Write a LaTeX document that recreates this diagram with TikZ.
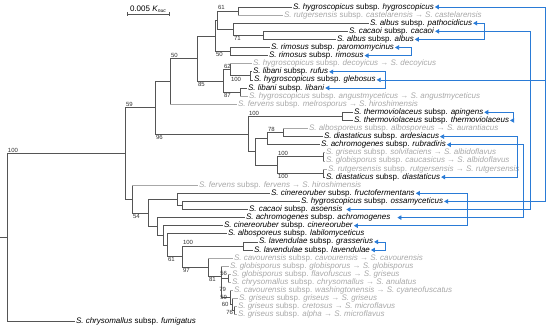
\documentclass[tikz,border=0pt]{standalone}
\usepackage{fontspec}
\setmainfont{Liberation Sans}
\usetikzlibrary{arrows.meta,calc}
\definecolor{treecol}{HTML}{555555}
\definecolor{gtxt}{HTML}{A8A8A8}
\definecolor{blc}{HTML}{2A7BD6}
\definecolor{suptxt}{HTML}{333333}
\newcommand\mysub[2]{\textit{S.~#1} subsp. \textit{#2}}
\newcommand\mysyn[3]{\textit{S.~#1} subsp. \textit{#2} → \textit{S.~#3}}
\newcommand\bedge[2]{\draw[br] (#1) |- (#2.west);}
\newcommand\gedge[2]{\draw[br] (#1) -- (#1 |- #2.west); \draw[gbr] (#1 |- #2.west) -- (#2.west);}
\newcommand\iedge[2]{\draw[br] (#1) |- (#2);}
\tikzset{
  br/.style={draw=treecol, line width=0.8pt},
  gbr/.style={draw=gtxt, line width=0.8pt},
  lf/.style={anchor=west, inner sep=0.8pt, font=\fontsize{8}{9}\selectfont, text height=5.8pt, text depth=1.7pt, text=black},
  glf/.style={lf, text=gtxt},
  suplab/.style={font=\fontsize{6}{7}\selectfont, inner sep=0.3pt, text=suptxt},
  conn/.style={draw=blc, line width=0.7pt},
  tip/.tip={Triangle[length=4pt,width=4.5pt]}
}
\begin{document}
\begin{tikzpicture}[x=1pt,y=-1pt]
\useasboundingbox (0,0) rectangle (550,330);
% leaves
\node[lf] (l1) at (292,7.0) {\mysub{hygroscopicus}{hygroscopicus}};
\node[glf] (l2) at (283,15.1) {\mysyn{rutgersensis}{castelarensis}{castelarensis}};
\node[lf] (l3) at (369,23.2) {\mysub{albus}{pathocidicus}};
\node[lf] (l4) at (348,31.3) {\mysub{cacaoi}{cacaoi}};
\node[lf] (l5) at (336,39.4) {\mysub{albus}{albus}};
\node[lf] (l6) at (270,47.5) {\mysub{rimosus}{paromomycinus}};
\node[lf] (l7) at (268,55.6) {\mysub{rimosus}{rimosus}};
\node[glf] (l8) at (252,63.7) {\mysyn{hygroscopicus}{decoyicus}{decoyicus}};
\node[lf] (l9) at (252,71.8) {\mysub{libani}{rufus}};
\node[lf] (l10) at (253,79.9) {\mysub{hygroscopicus}{glebosus}};
\node[lf] (l11) at (247,88.0) {\mysub{libani}{libani}};
\node[glf] (l12) at (248,96.1) {\mysyn{hygroscopicus}{angustmyceticus}{angustmyceticus}};
\node[glf] (l13) at (237,104.2) {\mysyn{fervens}{melrosporus}{hiroshimensis}};
\node[lf] (l14) at (353,112.3) {\mysub{thermoviolaceus}{apingens}};
\node[lf] (l15) at (353,120.4) {\mysub{thermoviolaceus}{thermoviolaceus}};
\node[glf] (l16) at (308,128.5) {\mysyn{albosporeus}{albosporeus}{aurantiacus}};
\node[lf] (l17) at (323,136.6) {\mysub{diastaticus}{ardesiacus}};
\node[lf] (l18) at (320,144.7) {\mysub{achromogenes}{rubradiris}};
\node[glf] (l19) at (325,152.8) {\mysyn{griseus}{solvifaciens}{albidoflavus}};
\node[glf] (l20) at (325,160.9) {\mysyn{globisporus}{caucasicus}{albidoflavus}};
\node[glf] (l21) at (327,169.0) {\mysyn{rutgersensis}{rutgersensis}{rutgersensis}};
\node[lf] (l22) at (325,177.1) {\mysub{diastaticus}{diastaticus}};
\node[glf] (l23) at (198,185.2) {\mysyn{fervens}{fervens}{hiroshimensis}};
\node[lf] (l24) at (270,193.3) {\mysub{cinereoruber}{fructofermentans}};
\node[lf] (l25) at (300,201.4) {\mysub{hygroscopicus}{ossamyceticus}};
\node[lf] (l26) at (248,209.5) {\mysub{cacaoi}{asoensis}};
\node[lf] (l27) at (245,217.6) {\mysub{achromogenes}{achromogenes}};
\node[lf] (l28) at (223,225.7) {\mysub{cinereoruber}{cinereoruber}};
\node[lf] (l29) at (227,233.8) {\mysub{albosporeus}{labilomyceticus}};
\node[lf] (l30) at (258,241.9) {\mysub{lavendulae}{grasserius}};
\node[lf] (l31) at (253,250.0) {\mysub{lavendulae}{lavendulae}};
\node[glf] (l32) at (233,258.1) {\mysyn{cavourensis}{cavourensis}{cavourensis}};
\node[glf] (l33) at (229,266.2) {\mysyn{globisporus}{globisporus}{globisporus}};
\node[glf] (l34) at (231,274.3) {\mysyn{globisporus}{flavofuscus}{griseus}};
\node[glf] (l35) at (231,282.4) {\mysyn{chrysomallus}{chrysomallus}{anulatus}};
\node[glf] (l36) at (233,290.5) {\mysyn{cavourensis}{washingtonensis}{cyaneofuscatus}};
\node[glf] (l37) at (238,298.6) {\mysyn{griseus}{griseus}{griseus}};
\node[glf] (l38) at (237,306.7) {\mysyn{griseus}{cretosus}{microflavus}};
\node[glf] (l39) at (237,314.8) {\mysyn{griseus}{alpha}{microflavus}};
\node[lf] (l40) at (75,321) {\mysub{chrysomallus}{fumigatus}};
% internal nodes
\coordinate (A) at (238,11.05);
\coordinate (B45) at (263,35.35);
\coordinate (B) at (233,29.3);
\coordinate (C) at (217,20.2);
\coordinate (D) at (230,51.55);
\coordinate (E) at (215,35.9);
\coordinate (H910) at (250,75.85);
\coordinate (G) at (230,69.8);
\coordinate (H1112) at (240,92.05);
\coordinate (H) at (223,80.9);
\coordinate (F) at (197,58.4);
\coordinate (I) at (170,81.3);
\coordinate (T1415) at (342,116.35);
\coordinate (M1617) at (283,132.55);
\coordinate (M) at (267,138.6);
\coordinate (N1920) at (323,156.85);
\coordinate (N2122) at (323,173.05);
\coordinate (N) at (277,164.95);
\coordinate (L) at (255,151.8);
\coordinate (K) at (248,134.1);
\coordinate (J) at (155,107.7);
\coordinate (Q2) at (182,205.45);
\coordinate (Q1) at (177,199.4);
\coordinate (n60) at (234,310.75);
\coordinate (n59) at (232,304.7);
\coordinate (n79) at (230,297.6);
\coordinate (n56) at (228,278.35);
\coordinate (S2) at (221,276);
\coordinate (S2top) at (221,266.2);
\coordinate (S) at (208,267);
\coordinate (R3031) at (243,245.95);
\coordinate (Q6) at (182,256.5);
\coordinate (Q5) at (167,245.15);
\coordinate (Q4) at (163,235.4);
\coordinate (Q3) at (157,226.5);
\coordinate (Q) at (148,212.95);
\coordinate (P) at (132,199.1);
\coordinate (O) at (125,153.4);
\coordinate (R) at (7,237.2);
\coordinate (R0) at (0,237.2);
% leaf edges
\bedge{A}{l1}\gedge{A}{l2}\bedge{B}{l3}\bedge{B45}{l4}\bedge{B45}{l5}
\bedge{D}{l6}\bedge{D}{l7}\gedge{G}{l8}\bedge{H910}{l9}\bedge{H910}{l10}
\bedge{H1112}{l11}\gedge{H1112}{l12}\gedge{I}{l13}\bedge{T1415}{l14}\bedge{T1415}{l15}
\gedge{M1617}{l16}\bedge{M1617}{l17}\bedge{M}{l18}\gedge{N1920}{l19}\gedge{N1920}{l20}
\gedge{N2122}{l21}\bedge{N2122}{l22}\gedge{P}{l23}\bedge{Q1}{l24}\bedge{Q2}{l25}
\bedge{Q2}{l26}\bedge{Q3}{l27}\bedge{Q4}{l28}\bedge{Q5}{l29}\bedge{R3031}{l30}
\bedge{R3031}{l31}\gedge{S}{l32}\gedge{S2}{l33}\gedge{n56}{l34}\gedge{n56}{l35}
\gedge{n79}{l36}\gedge{n59}{l37}\gedge{n60}{l38}\gedge{n60}{l39}\bedge{R}{l40}
% internal edges
\iedge{C}{A}\iedge{C}{B}\iedge{B}{B45}\iedge{E}{C}\iedge{E}{D}
\iedge{G}{H910}\iedge{H}{G}\iedge{H}{H1112}\iedge{F}{E}\iedge{F}{H}
\iedge{I}{F}\iedge{J}{I}\iedge{J}{K}\iedge{K}{T1415}\iedge{K}{L}
\iedge{L}{M}\iedge{L}{N}\iedge{M}{M1617}\iedge{N}{N1920}\iedge{N}{N2122}
\iedge{O}{J}\iedge{O}{P}\iedge{P}{Q}\iedge{Q}{Q1}\iedge{Q1}{Q2}
\iedge{Q}{Q3}\iedge{Q3}{Q4}\iedge{Q4}{Q5}\iedge{Q5}{Q6}\iedge{Q6}{R3031}
\iedge{Q6}{S}\iedge{S}{S2}\iedge{S2}{n56}\iedge{S2}{n79}\iedge{n79}{n59}
\iedge{n59}{n60}\iedge{R}{O}
\draw[br] (R0) -- (R);
% support values
\node[suplab, anchor=south west] (s1) at (217.5,10.4) {61};
\node[suplab, anchor=north west] (s2) at (233.5,35.9) {71};
\node[suplab, anchor=north west] (s3) at (215.5,52.1) {50};
\node[suplab, anchor=south west] (s4) at (170.5,57.8) {50};
\node[suplab, anchor=south west] (s5) at (223.5,69.2) {62};
\node[suplab, anchor=north west] (s6) at (230.5,76.4) {100};
\node[suplab, anchor=north west] (s7) at (223.5,92.6) {87};
\node[suplab, anchor=north west] (s8) at (197.5,81.5) {85};
\node[suplab, anchor=south west] (s9) at (125.5,107.1) {59};
\node[suplab, anchor=north west] (s10) at (155.5,134.7) {96};
\node[suplab, anchor=south west] (s11) at (248.5,115.8) {100};
\node[suplab, anchor=south west] (s12) at (267.5,132.0) {78};
\node[suplab, anchor=south west] (s13) at (277.5,156.3) {100};
\node[suplab, anchor=north west] (s14) at (277.5,173.6) {100};
\node[suplab, anchor=south west] (s15) at (7.5,152.8) {100};
\node[suplab, anchor=north west] (s16) at (132.5,213.5) {54};
\node[suplab, anchor=south west] (s17) at (182.5,245.4) {100};
\node[suplab, anchor=north west] (s18) at (167.5,257.1) {61};
\node[suplab, anchor=north west] (s19) at (182.5,267.6) {97};
\node[suplab, anchor=north west] (s20) at (208.5,276.6) {81};
\node[suplab, anchor=east] (s21) at (227.5,273.5) {56};
\node[suplab, anchor=east] (s22) at (226.5,289.5) {79};
\node[suplab, anchor=east] (s23) at (227.5,297.5) {59};
\node[suplab, anchor=east] (s24) at (229,304.5) {60};
\node[suplab, anchor=east] (s25) at (233.5,312) {76};
% scale bar
\coordinate (sb1) at (127,14);
\coordinate (sb2) at (169,14);
\draw[br] (sb1) -- (sb2);
\draw[br] ($(sb1)+(0,-2)$) -- ($(sb1)+(0,2)$);
\draw[br] ($(sb2)+(0,-2)$) -- ($(sb2)+(0,2)$);
\node[font=\fontsize{8}{9}\selectfont, inner sep=0pt, anchor=base] (sbl) at (148,11) {0.005 \textit{K}\raisebox{-0.35ex}{\fontsize{5}{6}\selectfont\textit{nuc}}};
% blue connectors
\coordinate (vA) at (545,0);
\coordinate (vB) at (530,0);
\coordinate (vC) at (523,0);
\coordinate (vD) at (517,0);
\coordinate (vE) at (513,0);
\coordinate (vF) at (484,0);
\coordinate (vG) at (467,0);
\coordinate (vH) at (411,0);
\coordinate (vI) at (385,0);
\draw[conn, tip-tip] (l1.east) -- (l1.east -| vA) -- (l25.east -| vA) -- (l25.east);
\draw[conn, -tip] (l10.east -| vA) -- (l10.east);
\draw[conn, tip-tip] (l4.east) -- (l4.east -| vB) -- (l26.east -| vB) -- ([xshift=3pt]l26.east);
\draw[conn, tip-tip] (l18.east) -- (l18.east -| vC) -- (l27.east -| vC) -- ([xshift=6pt]l27.east);
\draw[conn, tip-tip] (l17.east) -- (l17.east -| vD) -- (l22.east -| vD) -- (l22.east);
\draw[conn, tip-tip] (l14.east) -- (l14.east -| vE) -- (l15.east -| vE) -- (l15.east);
\draw[conn, tip-tip] (l3.east) -- (l3.east -| vF) -- (l5.east -| vF) -- (l5.east);
\draw[conn, tip-tip] (l24.east) -- (l24.east -| vG) -- (l28.east -| vG) -- (l28.east);
\draw[conn, tip-tip] (l6.east) -- (l6.east -| vH) -- (l7.east -| vH) -- (l7.east);
\draw[conn, tip-tip] (l9.east) -- (l9.east -| vI) -- (l11.east -| vI) -- (l11.east);
\draw[conn, tip-tip] (l30.east) -- (l30.east -| vI) -- (l31.east -| vI) -- (l31.east);
\end{tikzpicture}
\end{document}
